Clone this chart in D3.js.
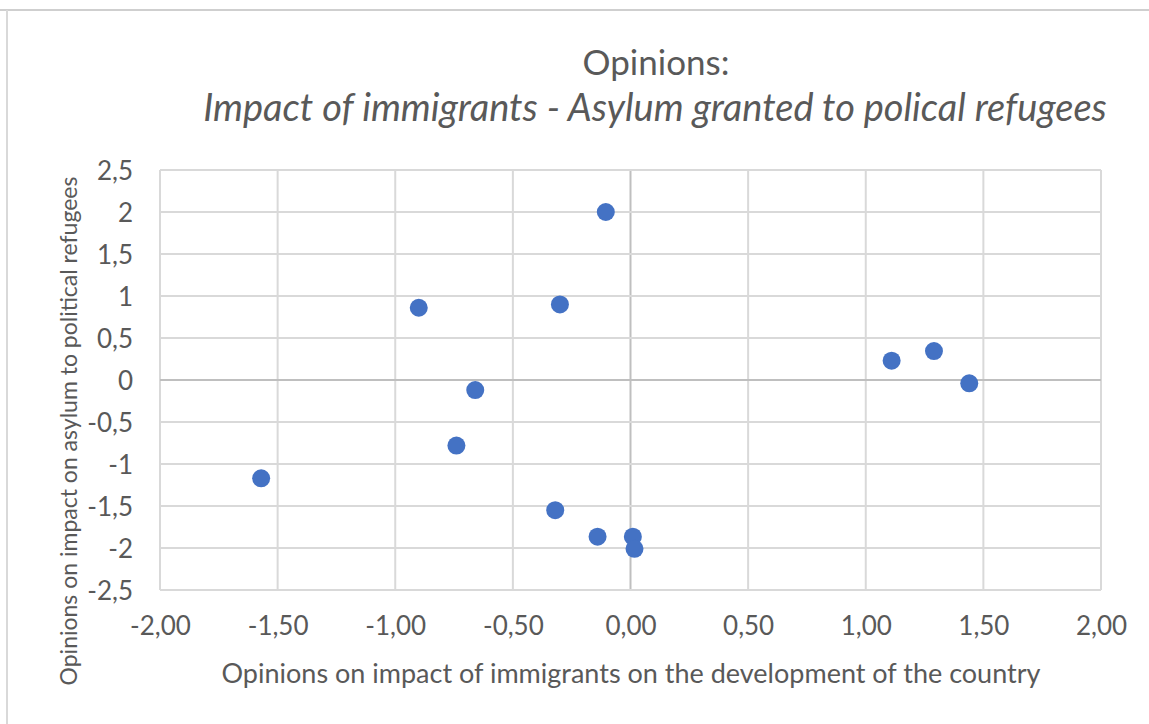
<!DOCTYPE html>
<html>
<head>
<meta charset="utf-8">
<script src="https://cdn.jsdelivr.net/npm/d3@7"></script>
<style>
  body { margin: 0; background: #fff; }
  text { font-family: Lato, "Open Sans", sans-serif; fill: #595959; }
</style>
</head>
<body>
<div id="chart"></div>
<script>
// Data
var xValues = [-1.57, -0.90, -0.30, -0.105, -0.66, -0.74, -0.32, -0.14, 0.01, 0.017, 1.11, 1.29, 1.44];
var yValues = [-1.17, 0.86, 0.90, 2.00, -0.12, -0.78, -1.55, -1.865, -1.865, -2.01, 0.23, 0.345, -0.04];

var xTicks = [-2, -1.5, -1, -0.5, 0, 0.5, 1, 1.5, 2];
var xTickLabels = ["-2,00", "-1,50", "-1,00", "-0,50", "0,00", "0,50", "1,00", "1,50", "2,00"];
var yTicks = [2.5, 2, 1.5, 1, 0.5, 0, -0.5, -1, -1.5, -2, -2.5];
var yTickLabels = ["2,5", "2", "1,5", "1", "0,5", "0", "-0,5", "-1", "-1,5", "-2", "-2,5"];

var svgWidth = 1149;
var svgHeight = 724;

var margin = { top: 170, right: 48, bottom: 134, left: 160 };
var width = svgWidth - margin.left - margin.right;
var height = svgHeight - margin.top - margin.bottom;

var svg = d3.select("#chart")
    .append("svg")
    .attr("width", svgWidth)
    .attr("height", svgHeight);

// chart frame (only top and left edge visible in the screenshot)
svg.append("line").attr("x1", 0).attr("x2", svgWidth).attr("y1", 10).attr("y2", 10)
    .attr("stroke", "#cfcfcf").attr("stroke-width", 2);
svg.append("line").attr("x1", 7).attr("x2", 7).attr("y1", 10).attr("y2", svgHeight)
    .attr("stroke", "#d9d9d9").attr("stroke-width", 2);

var chartGroup = svg.append("g").attr("transform", `translate(${margin.left}, ${margin.top})`);

var xScale = d3.scaleLinear().domain([-2, 2]).range([0, width]);
var yScale = d3.scaleLinear().domain([-2.5, 2.5]).range([height, 0]);

// gridlines
chartGroup.selectAll(".vgrid")
    .data(xTicks)
    .enter()
    .append("line")
    .attr("x1", d => xScale(d))
    .attr("x2", d => xScale(d))
    .attr("y1", 0)
    .attr("y2", height)
    .attr("stroke", d => d === 0 ? "#bfbfbf" : "#d9d9d9")
    .attr("stroke-width", 2);

chartGroup.selectAll(".hgrid")
    .data(yTicks)
    .enter()
    .append("line")
    .attr("x1", 0)
    .attr("x2", width)
    .attr("y1", d => yScale(d))
    .attr("y2", d => yScale(d))
    .attr("stroke", d => d === 0 ? "#bfbfbf" : "#d9d9d9")
    .attr("stroke-width", 2);

// axes (labels only, lines handled by grid)
var bottomAxis = d3.axisBottom(xScale)
    .tickValues(xTicks)
    .tickSize(0)
    .tickPadding(27)
    .tickFormat((d, i) => xTickLabels[i]);
var leftAxis = d3.axisLeft(yScale)
    .tickValues(yTicks)
    .tickSize(0)
    .tickPadding(27)
    .tickFormat((d, i) => yTickLabels[i]);

var gx = chartGroup.append("g")
    .attr("transform", `translate(0, ${height})`)
    .call(bottomAxis);
var gy = chartGroup.append("g")
    .call(leftAxis);

[gx, gy].forEach(function(g) {
    g.select(".domain").remove();
    g.selectAll("text")
        .style("font-family", "Lato, 'Open Sans', sans-serif")
        .style("font-size", "26px")
        .attr("fill", "#595959");
});
gy.selectAll("text").attr("dy", "0.36em");

// points
chartGroup.selectAll("circle")
    .data(xValues)
    .enter()
    .append("circle")
    .attr("cx", d => xScale(d))
    .attr("cy", (d, i) => yScale(yValues[i]))
    .attr("r", 9)
    .attr("fill", "#4472c4");

// titles
svg.append("text")
    .attr("x", 656)
    .attr("y", 75)
    .attr("text-anchor", "middle")
    .style("font-size", "35px")
    .text("Opinions:");

svg.append("text")
    .attr("x", 655)
    .attr("y", 121)
    .attr("text-anchor", "middle")
    .style("font-size", "38px")
    .style("font-style", "italic")
    .text("Impact of immigrants - Asylum granted to polical refugees");

svg.append("text")
    .attr("x", 631)
    .attr("y", 683)
    .attr("text-anchor", "middle")
    .style("font-size", "27px")
    .text("Opinions on impact of immigrants on the development of the country");

svg.append("text")
    .attr("transform", "rotate(-90)")
    .attr("x", -431)
    .attr("y", 77)
    .attr("text-anchor", "middle")
    .style("font-size", "23px")
    .text("Opinions on impact on asylum to political refugees");
</script>
</body>
</html>
